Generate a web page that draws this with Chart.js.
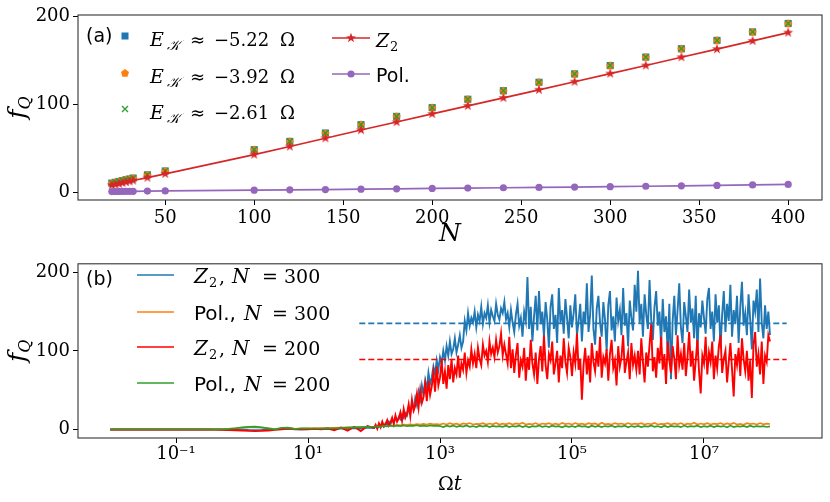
<!DOCTYPE html>
<html>
<head>
<meta charset="utf-8">
<script src="https://cdn.jsdelivr.net/npm/chart.js@4.4.0/dist/chart.umd.min.js"></script>
<style>
  html, body { margin: 0; padding: 0; background: #fff; }
  #wrap { position: relative; width: 830px; height: 502px; }
  canvas { position: absolute; left: 0; }
  #top { top: 0; }
  #bottom { top: 250px; }
</style>
</head>
<body>
<div id="wrap">
  <canvas id="top" width="830" height="250"></canvas>
  <canvas id="bottom" width="830" height="252"></canvas>
</div>
<script>
// ---- panel (a): f_Q against N ----
const sizesN = [20, 22, 24, 26, 28, 30, 32, 40, 50, 100, 120, 140, 160, 180, 200,
    220, 240, 260, 280, 300, 320, 340, 360, 380, 400];
const fqE522 = [10.4, 11.3, 12.3, 13.2, 14.2, 15.1, 16.1, 19.8, 24.2, 48.4, 57.8, 67.3, 76.8, 86.2, 96.2,
    105.7, 115.4, 125.0, 134.5, 144.0, 153.6, 163.1, 172.6, 182.2, 191.8];
const fqE392 = [10.4, 11.3, 12.3, 13.2, 14.2, 15.1, 16.1, 19.8, 24.2, 48.4, 57.8, 67.3, 76.8, 86.2, 96.2,
    105.7, 115.4, 125.0, 134.5, 144.0, 153.6, 163.1, 172.6, 182.2, 191.8];
const fqE261 = [10.4, 11.3, 12.3, 13.2, 14.2, 15.1, 16.1, 19.8, 24.2, 48.4, 57.8, 67.3, 76.8, 86.2, 96.2,
    105.7, 115.4, 125.0, 134.5, 144.0, 153.6, 163.1, 172.6, 182.2, 191.8];
const fqZ2 = [8.0, 8.9, 9.8, 10.7, 11.6, 12.5, 13.4, 16.6, 20.9, 42.8, 52.0, 61.4, 70.7, 79.8, 89.0,
    98.2, 107.2, 116.4, 125.6, 134.8, 144.0, 153.4, 162.6, 172.0, 181.4];
const fqPol = [0.8, 0.85, 0.9, 0.95, 1.0, 1.05, 1.1, 1.3, 1.5, 2.4, 2.8, 3.1, 3.5, 3.9, 4.3,
    4.7, 5.1, 5.5, 5.9, 6.3, 6.8, 7.3, 7.8, 8.3, 8.9];
const topXTicks = [50, 100, 150, 200, 250, 300, 350, 400];
const topYTicks = [0, 100, 200];

// ---- panel (b): f_Q against Omega t (log time) ----
// early samples: log10(t) = -2.0 ... 1.9 in steps of 0.1
const earlyZ2N300 = [0, 0, 0, 0, 0, 0, 0, 0, 0, 0,
    0, 0, 0, 0, 0, 0, 0, 0.1, 0.2, 0.1,
    -0.2, -0.6, -0.8, -0.6, -0.2, 0.3, 0.8, 1.2, 0.6, 0.4,
    0.6, 0.8, 0.5, 1.0, 0.7, 1.4, 0.9, 2.0, 1.2, 2.5];
const earlyPolN300 = [0, 0, 0, 0, 0, 0, 0, 0, 0, 0,
    0, 0, 0, 0, 0, 0.1, 0.2, 0.5, 0.9, 1.5,
    2.1, 2.6, 2.8, 2.4, 1.5, 0.5, 1.4, 2.0, 0.8, 1.3,
    1.3, 1.5, 1.6, 1.8, 2.0, 2.3, 2.6, 2.9, 3.2, 3.5];
const earlyZ2N200 = [0, 0, 0, 0, 0, 0, 0, 0, 0, 0,
    0, 0, 0, 0, 0, 0, -0.1, -0.3, -0.6, -1.0,
    -1.4, -1.8, -2.0, -1.8, -1.2, -0.5, 0.4, 1.2, 0.2, 0.6,
    0.4, 0.9, 0.3, 1.2, -0.8, 2.4, -1.5, 3.5, -2.0, 4.5];
const earlyPolN200 = [0, 0, 0, 0, 0, 0, 0, 0, 0, 0,
    0, 0, 0, 0, 0, 0, 0.1, 0.3, 0.8, 1.6,
    2.6, 3.4, 3.6, 2.8, 1.4, 0.2, 2.2, 2.4, 0.6, 1.6,
    1.4, 1.3, 1.4, 1.5, 1.6, 1.9, 2.3, 2.7, 3.1, 3.4];

// dense samples: log10(t) = 2.0 ... 8.0 in steps of 0.025
const denseZ2N300 = [
    2, 4, 2, 6, 3, 7, 4, 8, 6, 10, 7, 12, 9, 14, 11, 16, 13, 19, 15, 21,
    18, 27, 21, 33, 26, 40, 31, 48, 38, 56, 44, 62, 50, 72, 58, 66, 80, 70, 88, 76,
    92, 84, 100, 88, 106, 94, 112, 96, 102, 116, 98, 108, 120, 104, 112, 138, 126, 148, 132, 142,
    136, 150, 130, 146, 138, 156, 134, 148, 142, 158, 136, 152, 144, 138, 160, 146, 140, 154, 148, 162,
    140, 148, 130, 152, 136, 124, 146, 160, 132, 142, 118, 150, 138, 194, 128, 156, 112, 144, 170, 126,
    176, 134, 150, 118, 162, 140, 104, 156, 172, 128, 146, 110, 180, 136, 152, 122, 166, 142, 116, 158,
    130, 148, 172, 120, 138, 160, 112, 150, 134, 186, 124, 146, 196, 128, 108, 154, 170, 136, 118, 162,
    140, 100, 158, 176, 126, 144, 112, 168, 138, 152, 120, 180, 132, 148, 106, 164, 142, 126, 184, 150,
    202, 136, 160, 118, 172, 146, 128, 190, 140, 114, 156, 176, 132, 150, 108, 166, 124, 144, 98, 160,
    64, 138, 170, 120, 152, 186, 130, 110, 162, 144, 124, 178, 136, 154, 116, 170, 100, 148, 130, 164,
    142, 122, 166, 180, 128, 150, 112, 172, 136, 158, 104, 146, 176, 124, 160, 138, 184, 118, 152, 134,
    170, 110, 156, 188, 132, 148, 120, 172, 140, 102, 164, 150, 178, 124, 192, 136, 116, 158, 128, 150,
    120];
const denseZ2N200 = [
    2, 6, 1, 8, 3, 10, 4, 7, 12, 5, 9, 15, 7, 18, 10, 14, 22, 11, 26, 15,
    20, 32, 17, 38, 24, 30, 45, 28, 50, 34, 42, 58, 36, 62, 44, 55, 72, 48, 80, 56,
    66, 88, 58, 74, 52, 82, 64, 90, 60, 78, 70, 94, 66, 84, 76, 98, 72, 88, 80, 102,
    84, 96, 78, 104, 90, 82, 108, 94, 100, 86, 112, 96, 104, 92, 114, 98, 106, 122, 94, 108,
    96, 84, 118, 78, 102, 72, 95, 110, 66, 88, 80, 104, 62, 92, 76, 114, 84, 70, 98, 58,
    90, 106, 74, 120, 82, 64, 96, 88, 112, 70, 84, 100, 60, 94, 78, 116, 86, 72, 104, 92,
    68, 98, 84, 122, 76, 90, 38, 82, 104, 70, 94, 60, 110, 86, 74, 100, 80, 118, 66, 92,
    84, 102, 62, 96, 114, 78, 88, 56, 106, 80, 92, 120, 72, 86, 98, 64, 110, 82, 94, 76,
    100, 70, 116, 86, 60, 98, 80, 108, 134, 74, 92, 66, 104, 84, 118, 76, 96, 58, 112, 88,
    72, 106, 90, 64, 120, 82, 96, 76, 110, 68, 92, 124, 80, 100, 62, 88, 114, 74, 46, 94,
    84, 118, 70, 98, 86, 112, 64, 94, 78, 106, 120, 72, 90, 100, 60, 86, 110, 76, 42, 96,
    82, 104, 68, 116, 90, 74, 100, 62, 88, 40, 108, 124, 80, 96, 70, 112, 58, 94, 86, 120,
    112];
// Pol. curves: log10(t) = 2.0 ... 8.0 in steps of 0.05
const densePolN300 = [
    3.5, 4.2, 4.0, 4.8, 4.5, 5.2, 5.0, 5.8, 5.4, 6.2, 5.8, 6.6, 6.0, 7.0, 6.2, 7.2, 6.4, 7.4, 6.6, 7.0,
    6.2, 7.6, 6.4, 8.0, 6.6, 7.4, 6.0, 7.8, 6.8, 8.2, 6.4, 7.2, 6.8, 8.0, 6.2, 7.6, 6.6, 8.4, 6.4, 7.4,
    6.6, 8.0, 6.2, 7.8, 6.8, 8.6, 6.4, 7.2, 6.6, 8.2, 6.0, 7.6, 6.8, 8.0, 6.4, 7.4, 6.2, 8.4, 6.8, 7.6,
    6.4, 8.2, 6.6, 7.4, 6.2, 8.0, 6.8, 7.8, 6.0, 8.6, 6.6, 7.2, 6.4, 8.0, 6.8, 7.6, 6.2, 8.2, 6.6, 7.4,
    6.8, 8.0, 6.2, 7.6, 6.6, 8.4, 6.4, 7.2, 6.8, 8.0, 6.2, 7.8, 6.6, 8.2, 6.0, 7.4, 6.8, 8.6, 6.4, 7.6,
    6.6, 8.0, 6.4, 7.4, 6.8, 8.2, 6.2, 7.8, 6.6, 8.4, 6.4, 7.2, 6.0, 8.0, 6.8, 7.6, 6.4, 8.2, 6.6, 7.4,
    7.0];
const densePolN200 = [
    3.6, 4.0, 3.8, 4.6, 4.0, 4.8, 4.2, 5.0, 4.4, 5.2, 4.2, 5.0, 4.6, 5.4, 4.4, 5.0, 4.2, 5.2, 4.6, 5.0,
    4.4, 3.2, 4.8, 3.6, 5.0, 3.4, 4.6, 3.8, 5.2, 3.4, 4.4, 3.0, 4.8, 3.6, 5.0, 3.2, 4.6, 3.8, 4.2, 3.4,
    4.8, 3.0, 4.4, 3.6, 5.0, 3.2, 4.6, 2.8, 4.2, 3.8, 5.0, 3.4, 4.4, 3.0, 4.8, 3.6, 4.2, 2.8, 4.6, 3.4,
    4.4, 3.2, 5.0, 3.6, 4.2, 2.8, 4.8, 3.4, 4.6, 3.0, 4.4, 3.8, 5.0, 3.2, 4.2, 3.6, 4.8, 2.8, 4.4, 3.4,
    4.6, 3.0, 4.2, 3.6, 5.0, 3.4, 4.4, 2.8, 4.8, 3.2, 4.6, 3.8, 4.2, 3.0, 5.0, 3.4, 4.4, 3.6, 4.8, 3.2,
    4.2, 3.4, 4.8, 3.0, 4.6, 3.6, 4.4, 2.8, 5.0, 3.2, 4.2, 3.8, 4.6, 3.0, 4.8, 3.4, 4.4, 3.6, 4.2, 3.2,
    4.0];
// long-time averages (dashed lines)
const meanLogT = [1.777, 8.253];
const meanZ2N300 = 135;
const meanZ2N200 = 89;
const bottomXTickExp = [-1, 1, 3, 5, 7];
const bottomYTicks = [0, 100, 200];

// sampling grids of log10(t)
const earlyLogT = Array.from({length: 40}, (_, i) => -2 + i * 0.1);
const denseLogT = Array.from({length: 241}, (_, i) => 2 + i * 0.025);
const polLogT = Array.from({length: 121}, (_, i) => 2 + i * 0.05);

const SERIF = '"DejaVu Serif", serif';
const SANS = '"DejaVu Sans", sans-serif';
const it = s => `italic ${s}px ${SERIF}`;
const rm = s => `${s}px ${SERIF}`;
const sf = s => `${s}px ${SANS}`;

const C = {
    blue: '#1f77b4', orange: '#ff7f0e', green: '#2ca02c',
    red: '#d62728', purple: '#9467bd', pure: '#ff0000'
};

let toXY = (logs, ys) => logs.map((l, i) => ({x: Math.pow(10, l), y: ys[i]}));

// marker images for shapes Chart.js does not have
let markerCanvas = (size, draw) => {
    const c = document.createElement('canvas');
    c.width = c.height = size;
    draw(c.getContext('2d'), size / 2);
    return c;
};
let polygonPath = (g, cx, cy, n, rOut, rIn) => {
    g.beginPath();
    const steps = rIn ? n * 2 : n;
    for (let i = 0; i < steps; i++) {
        const r = rIn && i % 2 ? rIn : rOut;
        const a = -Math.PI / 2 + i * 2 * Math.PI / steps;
        g.lineTo(cx + r * Math.cos(a), cy + r * Math.sin(a));
    }
    g.closePath();
};
const starImg = markerCanvas(12, (g, c) => {
    polygonPath(g, c, c, 5, 5.2, 2.1);
    g.fillStyle = C.red;
    g.fill();
});
const pentImg = markerCanvas(10, (g, c) => {
    polygonPath(g, c, c + 0.3, 5, 4.2);
    g.fillStyle = C.orange;
    g.fill();
});

// rich text: list of {t, font, x, dy}; x is an offset from the start, else it follows on
let richWidth = (ctx, parts) => parts.reduce((w, p) => {
    ctx.font = p.font;
    return (p.x !== undefined ? p.x : w) + ctx.measureText(p.t).width;
}, 0);
let richText = (ctx, x, y, parts) => {
    let cx = x;
    ctx.textBaseline = 'alphabetic';
    ctx.textAlign = 'left';
    for (const p of parts) {
        if (p.x !== undefined) cx = x + p.x;
        ctx.font = p.font;
        ctx.fillText(p.t, cx, y + (p.dy || 0));
        cx += ctx.measureText(p.t).width;
    }
    return cx;
};

let drawFrame = (chart) => {
    const {ctx, chartArea: a} = chart;
    ctx.save();
    ctx.strokeStyle = '#333';
    ctx.lineWidth = 1.1;
    ctx.strokeRect(a.left, a.top, a.right - a.left, a.bottom - a.top);
    ctx.restore();
};
let drawYTitle = (chart) => {
    const {ctx, chartArea: a} = chart;
    const parts = [{t: 'f', font: it(25)}, {t: 'Q', font: it(16), dy: 5}];
    const w = richWidth(ctx, parts);
    ctx.save();
    ctx.fillStyle = '#000';
    ctx.translate(25, (a.top + a.bottom) / 2 + w / 2);
    ctx.rotate(-Math.PI / 2);
    richText(ctx, 0, 0, parts);
    ctx.restore();
};
let drawXTitle = (chart, parts, baseline) => {
    const {ctx, chartArea: a} = chart;
    const w = richWidth(ctx, parts);
    ctx.save();
    ctx.fillStyle = '#000';
    richText(ctx, (a.left + a.right) / 2 - w / 2, baseline, parts);
    ctx.restore();
};
let legendLine = (ctx, x0, x1, y, color) => {
    ctx.save();
    ctx.strokeStyle = color;
    ctx.lineWidth = 1.6;
    ctx.beginPath();
    ctx.moveTo(x0, y);
    ctx.lineTo(x1, y);
    ctx.stroke();
    ctx.restore();
};
let energyLabel = (value) => [
    {t: 'E', font: it(19), x: 0}, {t: '\u{1D4A6}', font: it(14), x: 17, dy: 4},
    {t: '\u2248', font: rm(18), x: 40}, {t: '\u2212' + value, font: rm(18), x: 64},
    {t: '\u03A9', font: rm(18), x: 130}
];

const panelA = {
    id: 'panelA',
    afterDraw(chart) {
        const ctx = chart.ctx;
        drawFrame(chart);
        drawYTitle(chart);
        drawXTitle(chart, [{t: 'N', font: it(25)}], 241);
        ctx.save();
        ctx.fillStyle = '#000';
        richText(ctx, 86, 42, [{t: '(a)', font: sf(19)}]);
        // markers column
        ctx.fillStyle = C.blue;
        ctx.fillRect(121.5, 32.5, 7, 7);
        ctx.drawImage(pentImg, 125 - 5, 73 - 5);
        ctx.strokeStyle = C.green;
        ctx.lineWidth = 1.3;
        ctx.beginPath();
        ctx.moveTo(122, 106); ctx.lineTo(128, 112);
        ctx.moveTo(128, 106); ctx.lineTo(122, 112);
        ctx.stroke();
        ctx.fillStyle = '#000';
        richText(ctx, 150, 46, energyLabel('5.22'));
        richText(ctx, 150, 83, energyLabel('3.92'));
        richText(ctx, 150, 119, energyLabel('2.61'));
        // right column
        legendLine(ctx, 332, 370, 38, C.red);
        ctx.drawImage(starImg, 351 - 6, 38 - 6);
        legendLine(ctx, 332, 370, 74, C.purple);
        ctx.fillStyle = C.purple;
        ctx.beginPath();
        ctx.arc(351, 74, 3.6, 0, 2 * Math.PI);
        ctx.fill();
        ctx.fillStyle = '#000';
        richText(ctx, 376, 47, [{t: 'Z', font: it(19)}, {t: '2', font: rm(13), x: 14, dy: 4}]);
        richText(ctx, 376, 82, [{t: 'Pol.', font: sf(19)}]);
        ctx.restore();
    }
};

const panelB = {
    id: 'panelB',
    afterDraw(chart) {
        const ctx = chart.ctx;
        drawFrame(chart);
        drawYTitle(chart);
        drawXTitle(chart, [{t: '\u03A9', font: rm(19)}, {t: 't', font: it(20)}], 240);
        ctx.save();
        ctx.fillStyle = '#000';
        richText(ctx, 86, 35, [{t: '(b)', font: sf(19)}]);
        const rows = [
            {y: 25, c: C.blue, z: true, n: '300'},
            {y: 62, c: C.orange, z: false, n: '300'},
            {y: 97, c: C.pure, z: true, n: '200'},
            {y: 133, c: C.green, z: false, n: '200'}
        ];
        rows.forEach((r) => {
            legendLine(ctx, 137, 174, r.y, r.c);
            ctx.fillStyle = '#000';
            const parts = r.z
                ? [{t: 'Z', font: it(20), x: 0}, {t: '2', font: rm(13), x: 15, dy: 4},
                   {t: ',', font: rm(19), x: 25}, {t: 'N', font: it(20), x: 38},
                   {t: '=', font: rm(19), x: 68}, {t: r.n, font: rm(19), x: 90}]
                : [{t: 'Pol.,', font: sf(20), x: 0}, {t: 'N', font: it(20), x: 50},
                   {t: '=', font: rm(19), x: 78}, {t: r.n, font: rm(19), x: 100}];
            richText(ctx, 194, r.y + 8, parts);
        });
        ctx.restore();
    }
};

Chart.defaults.font.family = SERIF;
Chart.defaults.color = '#000';

let tickGrid = {drawOnChartArea: false, drawTicks: true, tickLength: 5, color: '#000', lineWidth: 1};
let tickFont = {family: SERIF, size: 18};

const topChart = new Chart(document.getElementById('top'), {
    type: 'line',
    data: {
        labels: sizesN,
        datasets: [{
            data: sizesN.map((n, i) => ({x: n, y: fqE522[i]})),
            showLine: false, pointStyle: 'rect', pointRadius: 5,
            backgroundColor: C.blue, borderColor: C.blue, borderWidth: 0, order: 5
        }, {
            data: sizesN.map((n, i) => ({x: n, y: fqE392[i]})),
            showLine: false, pointStyle: pentImg, order: 4
        }, {
            data: sizesN.map((n, i) => ({x: n, y: fqE261[i]})),
            showLine: false, pointStyle: 'crossRot', pointRadius: 4,
            borderColor: C.green, pointBorderWidth: 1.4, order: 3
        }, {
            data: sizesN.map((n, i) => ({x: n, y: fqZ2[i]})),
            borderColor: C.red, borderWidth: 1.7, pointStyle: starImg, order: 2
        }, {
            data: sizesN.map((n, i) => ({x: n, y: fqPol[i]})),
            borderColor: C.purple, borderWidth: 1.7, pointStyle: 'circle', pointRadius: 3.6,
            backgroundColor: C.purple, pointBorderWidth: 0, order: 1
        }]
    },
    options: {
        responsive: false,
        animation: false,
        events: [],
        layout: {padding: {left: 0, right: 8, top: 15, bottom: 0}},
        plugins: {legend: {display: false}, tooltip: {enabled: false}},
        scales: {
            x: {
                type: 'linear', min: 1, max: 419,
                afterBuildTicks: (s) => { s.ticks = topXTicks.map(v => ({value: v})); },
                afterFit: (s) => { s.height = 50; },
                ticks: {font: tickFont, padding: 3, maxRotation: 0},
                grid: tickGrid, border: {display: false}
            },
            y: {
                min: -8.8, max: 201.4,
                afterBuildTicks: (s) => { s.ticks = topYTicks.map(v => ({value: v})); },
                afterFit: (s) => { s.width = 78; },
                ticks: {font: tickFont, padding: 3},
                grid: tickGrid, border: {display: false}
            }
        }
    },
    plugins: [panelA]
});

let supDigits = {'-': '\u207B', '0': '\u2070', '1': '\u00B9', '2': '\u00B2', '3': '\u00B3',
    '4': '\u2074', '5': '\u2075', '6': '\u2076', '7': '\u2077', '8': '\u2078', '9': '\u2079'};
let powerLabel = (e) => '10' + String(e).split('').map(ch => supDigits[ch]).join('');

const bottomChart = new Chart(document.getElementById('bottom'), {
    type: 'line',
    data: {
        datasets: [{
            data: toXY(earlyLogT.concat(denseLogT), earlyZ2N300.concat(denseZ2N300)),
            borderColor: C.blue, borderWidth: 1.9, order: 4
        }, {
            data: toXY(earlyLogT.concat(polLogT), earlyPolN300.concat(densePolN300)),
            borderColor: C.orange, borderWidth: 1.7, order: 3
        }, {
            data: toXY(earlyLogT.concat(denseLogT), earlyZ2N200.concat(denseZ2N200)),
            borderColor: C.pure, borderWidth: 1.9, order: 2
        }, {
            data: toXY(earlyLogT.concat(polLogT), earlyPolN200.concat(densePolN200)),
            borderColor: C.green, borderWidth: 1.7, order: 1
        }, {
            data: toXY(meanLogT, [meanZ2N300, meanZ2N300]),
            borderColor: C.blue, borderWidth: 1.6, borderDash: [6, 3], order: 0
        }, {
            data: toXY(meanLogT, [meanZ2N200, meanZ2N200]),
            borderColor: C.pure, borderWidth: 1.6, borderDash: [6, 3], order: 0
        }]
    },
    options: {
        responsive: false,
        animation: false,
        events: [],
        parsing: false,
        elements: {point: {radius: 0}, line: {tension: 0}},
        layout: {padding: {left: 0, right: 8, top: 3, bottom: 0}},
        plugins: {legend: {display: false}, tooltip: {enabled: false}},
        scales: {
            x: {
                type: 'logarithmic', min: Math.pow(10, -2.485), max: Math.pow(10, 8.788),
                afterBuildTicks: (s) => { s.ticks = bottomXTickExp.map(e => ({value: Math.pow(10, e)})); },
                afterFit: (s) => { s.height = 64; },
                ticks: {
                    font: {family: SERIF, size: 18}, padding: 1, maxRotation: 0, autoSkip: false,
                    callback: (v) => powerLabel(Math.round(Math.log10(v)))
                },
                grid: tickGrid, border: {display: false}
            },
            y: {
                type: 'linear', min: -10.8, max: 210.8,
                afterBuildTicks: (s) => { s.ticks = bottomYTicks.map(v => ({value: v})); },
                afterFit: (s) => { s.width = 78; },
                ticks: {font: tickFont, padding: 3},
                grid: tickGrid, border: {display: false}
            }
        }
    },
    plugins: [panelB]
});
</script>
</body>
</html>
